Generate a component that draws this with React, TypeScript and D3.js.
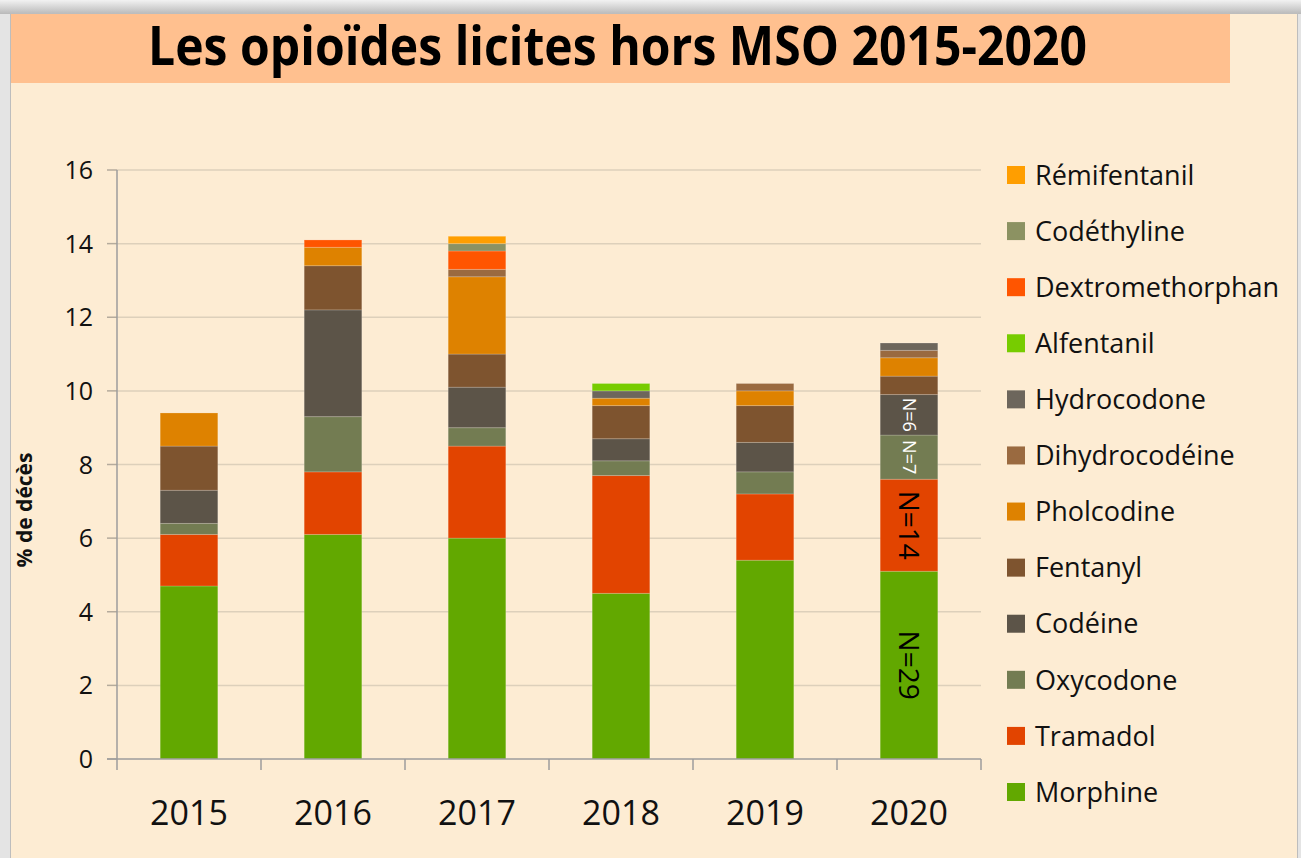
import * as d3 from "d3";

const years = ["2015", "2016", "2017", "2018", "2019", "2020"];

// series, bottom of the stack first
const seriesNames = [
  "Morphine",
  "Tramadol",
  "Oxycodone",
  "Codéine",
  "Fentanyl",
  "Pholcodine",
  "Dihydrocodéine",
  "Hydrocodone",
  "Alfentanil",
  "Dextromethorphan",
  "Codéthyline",
  "Rémifentanil",
];
const morphine = [4.7, 6.1, 6.0, 4.5, 5.4, 5.1];
const tramadol = [1.4, 1.7, 2.5, 3.2, 1.8, 2.5];
const oxycodone = [0.3, 1.5, 0.5, 0.4, 0.6, 1.2];
const codeine = [0.9, 2.9, 1.1, 0.6, 0.8, 1.1];
const fentanyl = [1.2, 1.2, 0.9, 0.9, 1.0, 0.5];
const pholcodine = [0.9, 0.5, 2.1, 0.2, 0.4, 0.5];
const dihydrocodeine = [0, 0, 0.2, 0, 0.2, 0.2];
const hydrocodone = [0, 0, 0, 0.2, 0, 0.2];
const alfentanil = [0, 0, 0, 0.2, 0, 0];
const dextromethorphan = [0, 0.2, 0.5, 0, 0, 0];
const codethyline = [0, 0, 0.2, 0, 0, 0];
const remifentanil = [0, 0, 0.2, 0, 0, 0];

const seriesValues = [
  morphine, tramadol, oxycodone, codeine, fentanyl, pholcodine,
  dihydrocodeine, hydrocodone, alfentanil, dextromethorphan, codethyline, remifentanil,
];

const colors = [
  "#62a800", "#e24400", "#737c52", "#5c5448", "#7e542f", "#de8200",
  "#9a6a40", "#6d665c", "#77cc00", "#ff5500", "#8c9262", "#ff9e00",
];

const yTicks = [0, 2, 4, 6, 8, 10, 12, 14, 16];

// labels written inside the 2020 bar
const notes = [
  { series: "Morphine", text: "N=29", color: "#000", size: 28 },
  { series: "Tramadol", text: "N=14", color: "#000", size: 28 },
  { series: "Oxycodone", text: "N=7", color: "#fff", size: 18 },
  { series: "Codéine", text: "N=6", color: "#fff", size: 18 },
];

const font = "'Open Sans', sans-serif";

export default function App() {
  const W = 1301;
  const H = 858;

  const rows = years.map((yr, i) => {
    const r: any = { year: yr };
    seriesNames.forEach((s, k) => (r[s] = seriesValues[k][i]));
    return r;
  });
  const stacked = d3.stack<any>().keys(seriesNames)(rows);

  const x = d3.scaleBand().domain(years).range([117, 981]).padding(0);
  const y = d3.scaleLinear().domain([0, 16]).range([759, 170]);
  const barW = x.bandwidth() * 0.4;

  const legendY = d3
    .scalePoint()
    .domain(seriesNames.slice().reverse())
    .range([175, 792]);

  const last = years[years.length - 1];

  return (
    <svg
      width={W}
      height={H}
      style={{ position: "absolute", left: 0, top: 0, display: "block" }}
    >
      <defs>
        <linearGradient id="topShade" x1="0" y1="0" x2="0" y2="1">
          <stop offset="0%" stopColor="#f2f2f2" />
          <stop offset="100%" stopColor="#b9b9b9" />
        </linearGradient>
      </defs>
      <rect x={0} y={0} width={W} height={H} fill="#e4e4e4" />
      <rect x={0} y={0} width={W} height={14} fill="url(#topShade)" />
      <rect x={10} y={13} width={1288} height={H} fill="#bdbdbd" />
      <rect x={11} y={14} width={1286} height={H} fill="#fdecd3" />

      {/* title band */}
      <rect x={11} y={14} width={1219} height={69} fill="#ffc08f" />
      <text
        x={148}
        y={65}
        fontFamily={font}
        fontWeight={700}
        fontSize={53}
        textLength={939}
        lengthAdjust="spacingAndGlyphs"
        fill="#000"
      >
        Les opioïdes licites hors MSO 2015-2020
      </text>

      {/* grid */}
      {yTicks.map((t) => (
        <g key={t}>
          {t > 0 && (
            <line x1={117} x2={981} y1={y(t)} y2={y(t)} stroke="#ddd0bb" strokeWidth={1.5} />
          )}
          <line x1={107} x2={117} y1={y(t)} y2={y(t)} stroke="#b5ab9c" strokeWidth={1.5} />
          <text
            x={93}
            y={y(t)}
            dy="0.36em"
            textAnchor="end"
            fontFamily={font}
            fontSize={25}
            fill="#111"
          >
            {t}
          </text>
        </g>
      ))}

      {/* bars */}
      {stacked.map((layer, k) => (
        <g key={layer.key} fill={colors[k]}>
          {layer.map((d, i) =>
            d[1] - d[0] > 0 ? (
              <rect
                key={i}
                x={(x(years[i]) as number) + (x.bandwidth() - barW) / 2}
                y={y(d[1])}
                width={barW}
                height={y(d[0]) - y(d[1])}
                stroke="rgba(255,255,255,0.18)"
                strokeWidth={1}
              />
            ) : null
          )}
        </g>
      ))}

      {/* axes */}
      <line x1={117} x2={117} y1={170} y2={759} stroke="#9c9c9c" strokeWidth={1.5} />
      <line x1={107} x2={981} y1={759} y2={759} stroke="#9c9c9c" strokeWidth={1.5} />
      {years.map((yr) => (
        <line
          key={"t" + yr}
          x1={(x(yr) as number) + x.bandwidth()}
          x2={(x(yr) as number) + x.bandwidth()}
          y1={759}
          y2={770}
          stroke="#9c9c9c"
          strokeWidth={1.5}
        />
      ))}
      <line x1={117} x2={117} y1={759} y2={770} stroke="#9c9c9c" strokeWidth={1.5} />
      {years.map((yr) => (
        <text
          key={"l" + yr}
          x={(x(yr) as number) + x.bandwidth() / 2}
          y={825}
          textAnchor="middle"
          fontFamily={font}
          fontSize={34}
          fill="#111"
        >
          {yr}
        </text>
      ))}

      <text
        transform="translate(32,510) rotate(-90)"
        textAnchor="middle"
        fontFamily={font}
        fontWeight={700}
        fontSize={21}
        fill="#111"
      >
        % de décès
      </text>

      {/* 2020 annotations */}
      {notes.map((n) => {
        const layer = stacked[seriesNames.indexOf(n.series)];
        const d = layer[years.indexOf(last)];
        const cx = (x(last) as number) + x.bandwidth() / 2;
        const cy = y((d[0] + d[1]) / 2);
        return (
          <text
            key={n.text}
            transform={`translate(${cx},${cy}) rotate(90)`}
            textAnchor="middle"
            dy="0.35em"
            fontFamily={font}
            fontSize={n.size}
            fill={n.color}
          >
            {n.text}
          </text>
        );
      })}

      {/* legend */}
      {seriesNames.map((s, k) => (
        <g key={"lg" + s} transform={`translate(1007,${legendY(s)})`}>
          <rect x={0} y={-9} width={18} height={18} fill={colors[k]} />
          <text x={28} dy="0.36em" fontFamily={font} fontSize={27} fill="#111">
            {s}
          </text>
        </g>
      ))}
    </svg>
  );
}
